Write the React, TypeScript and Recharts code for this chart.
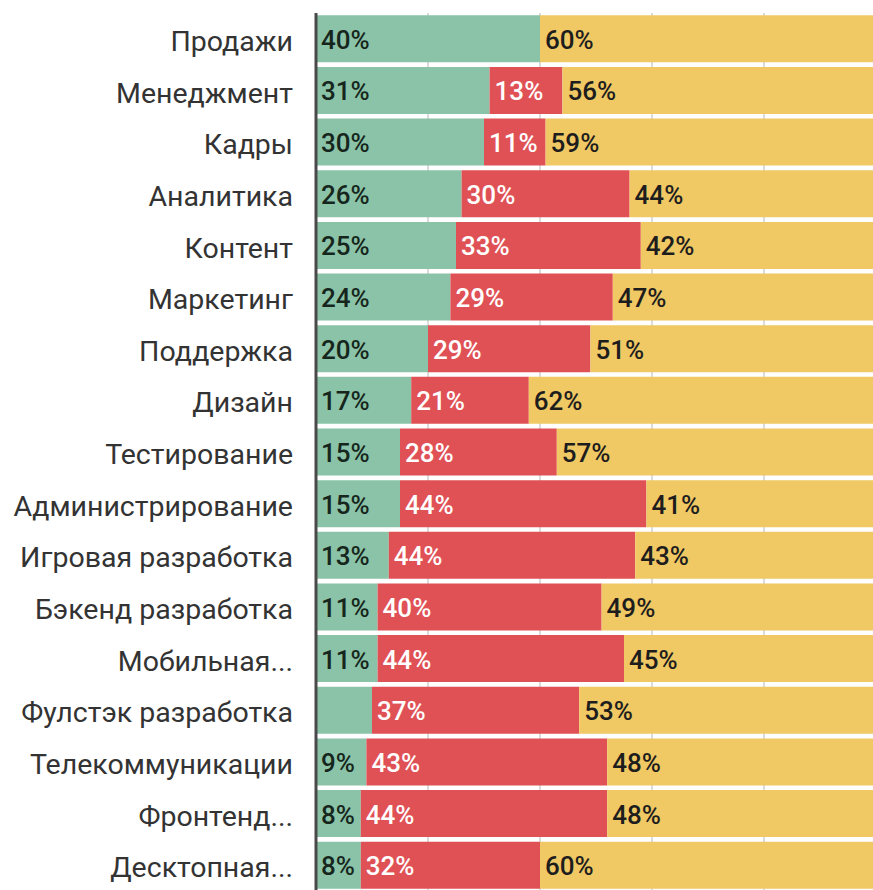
import React from "react";
import { BarChart, Bar, XAxis, YAxis, CartesianGrid, LabelList } from "recharts";

const categories = [
  "Продажи",
  "Менеджмент",
  "Кадры",
  "Аналитика",
  "Контент",
  "Маркетинг",
  "Поддержка",
  "Дизайн",
  "Тестирование",
  "Администрирование",
  "Игровая разработка",
  "Бэкенд разработка",
  "Мобильная...",
  "Фулстэк разработка",
  "Телекоммуникации",
  "Фронтенд...",
  "Десктопная...",
];
const greenValues = [40, 31, 30, 26, 25, 24, 20, 17, 15, 15, 13, 11, 11, 10, 9, 8, 8];
const redValues = [0, 13, 11, 30, 33, 29, 29, 21, 28, 44, 44, 40, 44, 37, 43, 44, 32];
const yellowValues = [60, 56, 59, 44, 42, 47, 51, 62, 57, 41, 43, 49, 45, 53, 48, 48, 60];
// rows whose green label is not shown in the original
const hiddenGreenLabels = ["Фулстэк разработка"];
const xTicks = [0, 20, 40, 60, 80, 100];

const data = categories.map((name, i) => ({
  name,
  green: greenValues[i],
  red: redValues[i],
  yellow: yellowValues[i],
}));

const FONT = "Roboto, 'Noto Sans', sans-serif";

const makeLabel = (color: string, key: string) => (props: any) => {
  const { x, y, height, value, index } = props;
  if (!value) return null;
  if (key === "green" && hiddenGreenLabels.includes(categories[index])) return null;
  return (
    <text
      x={Number(x) + 5}
      y={Number(y) + Number(height) / 2 + 1}
      dominantBaseline="central"
      textAnchor="start"
      fill={color}
      fontSize={26}
      fontWeight={500}
      fontFamily={FONT}
    >
      {value}%
    </text>
  );
};

export default function App() {
  return (
    <div
      style={{
        position: "fixed",
        left: 0,
        top: 0,
        width: 873,
        height: 890,
        overflow: "hidden",
        background: "#fff",
      }}
    >
      <BarChart
        width={876}
        height={891}
        data={data}
        layout="vertical"
        margin={{ top: 13, right: 0, bottom: 0, left: 0 }}
        barCategoryGap="4.5%"
      >
        <CartesianGrid horizontal={false} vertical={true} stroke="#cfcfcf" strokeWidth={1.5} />
        <XAxis type="number" domain={[0, 100]} ticks={xTicks} hide />
        <YAxis
          type="category"
          dataKey="name"
          width={316}
          tickLine={false}
          tickSize={6}
          tickMargin={17}
          axisLine={{ stroke: "#4a4a4a", strokeWidth: 3 }}
          tick={{ fill: "#333333", fontSize: 28.5, fontWeight: 400, fontFamily: FONT, dy: 2 }}
          interval={0}
        />
        <Bar dataKey="green" stackId="a" fill="#8ac3a7" isAnimationActive={false}>
          <LabelList dataKey="green" content={makeLabel("#16261c", "green")} />
        </Bar>
        <Bar dataKey="red" stackId="a" fill="#e05156" isAnimationActive={false}>
          <LabelList dataKey="red" content={makeLabel("#ffffff", "red")} />
        </Bar>
        <Bar dataKey="yellow" stackId="a" fill="#f0c864" isAnimationActive={false}>
          <LabelList dataKey="yellow" content={makeLabel("#1d1d1d", "yellow")} />
        </Bar>
      </BarChart>
    </div>
  );
}
